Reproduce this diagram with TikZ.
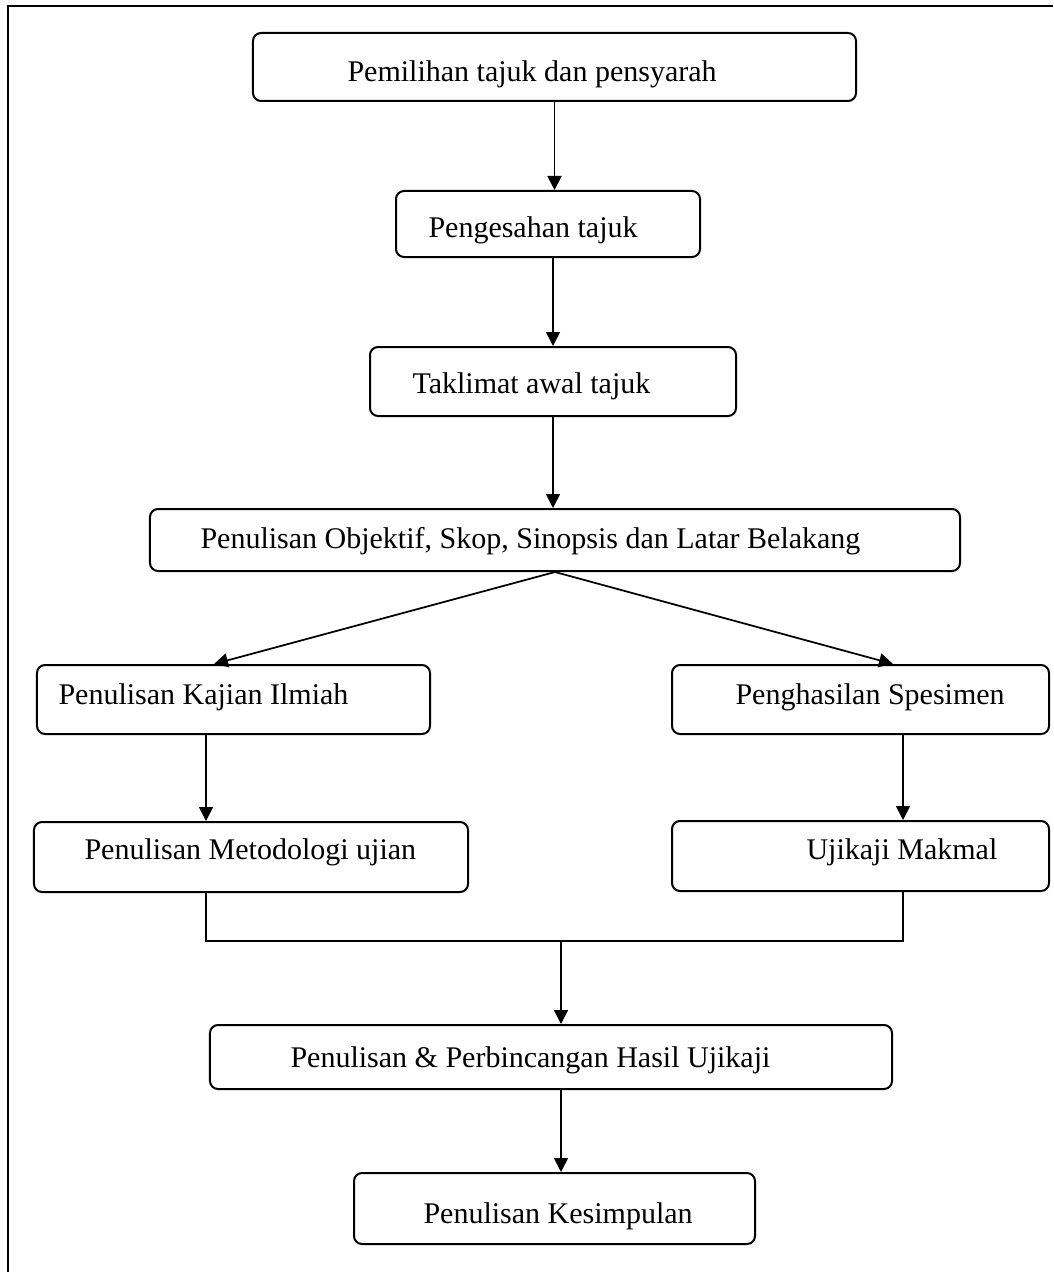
\documentclass[tikz,border=0pt]{standalone}
\usepackage{fontspec}
\setmainfont{Liberation Serif}
\usetikzlibrary{arrows.meta}
\begin{document}
\begin{tikzpicture}[x=0.4pt,y=-0.4pt]
    \useasboundingbox (0,0) rectangle (1053,1272);
    \draw[line width=0.9pt] (8,1272) -- (8,6) -- (1053,6);
    \begin{scope}
        \tikzstyle{every node}=[draw=black, rounded corners=3.2pt, line width=0.8pt, inner sep=0pt]
        \node[minimum width=241.2pt, minimum height=27.2pt] (pilih) at (554.5,67) {};
        \node[minimum width=121.6pt, minimum height=26.4pt] (sah) at (548,224) {};
        \node[minimum width=146.4pt, minimum height=27.6pt] (taklimat) at (553,381.5) {};
        \node[minimum width=324pt, minimum height=24.8pt] (objektif) at (555,540) {};
        \node[minimum width=157.2pt, minimum height=27.6pt] (kajian) at (233.5,699.5) {};
        \node[minimum width=150.8pt, minimum height=27.6pt] (spesimen) at (860.5,699.5) {};
        \node[minimum width=173.6pt, minimum height=28pt] (metod) at (251,857) {};
        \node[minimum width=150.8pt, minimum height=28pt] (makmal) at (860.5,856) {};
        \node[minimum width=272.8pt, minimum height=25.6pt] (hasil) at (551,1057) {};
        \node[minimum width=160.4pt, minimum height=28.4pt] (kesimpulan) at (554.5,1208.5) {};
    \end{scope}
    \begin{scope}
        \tikzstyle{every node}=[anchor=base west, inner sep=0pt, font=\fontsize{12}{14}\selectfont]
        \node (pilihT) at (347,82) {Pemilihan tajuk dan pensyarah};
        \node (sahT) at (428,237) {Pengesahan tajuk};
        \node (taklimatT) at (412,393) {Taklimat awal tajuk};
        \node (objektifT) at (200,548) {Penulisan Objektif, Skop, Sinopsis dan Latar Belakang};
        \node (kajianT) at (58,704) {Penulisan Kajian Ilmiah};
        \node (spesimenT) at (735,704) {Penghasilan Spesimen};
        \node (metodT) at (84,859) {Penulisan Metodologi ujian};
        \node (makmalT) at (806,859) {Ujikaji Makmal};
        \node (hasilT) at (290,1067) {Penulisan \& Perbincangan Hasil Ujikaji};
        \node (kesimpulanT) at (423,1223) {Penulisan Kesimpulan};
    \end{scope}
    \coordinate (kiri) at (206,0);
    \coordinate (kanan) at (903,0);
    \coordinate (sambung) at (561,941);
    \begin{scope}
        \tikzstyle{every edge}=[draw, line width=0.7pt, -{Triangle[length=5.6pt, width=5.6pt]}]
        \path
        (pilih.south) edge (pilih.south |- sah.north)
        (taklimat.north |- sah.south) edge (taklimat.north)
        (taklimat.south) edge (taklimat.south |- objektif.north)
        (objektif.south) edge ([xshift=-7.8pt]kajian.north)
        (objektif.south) edge ([xshift=13pt]spesimen.north)
        (kajian.south -| kiri) edge (metod.north -| kiri)
        (spesimen.south -| kanan) edge (makmal.north -| kanan)
        (sambung) edge (sambung |- hasil.north)
        (hasil.south -| sambung) edge (kesimpulan.north -| sambung);
        \draw[line width=0.7pt] (metod.south -| kiri) |- (sambung) -| (makmal.south -| kanan);
    \end{scope}
\end{tikzpicture}
\end{document}
